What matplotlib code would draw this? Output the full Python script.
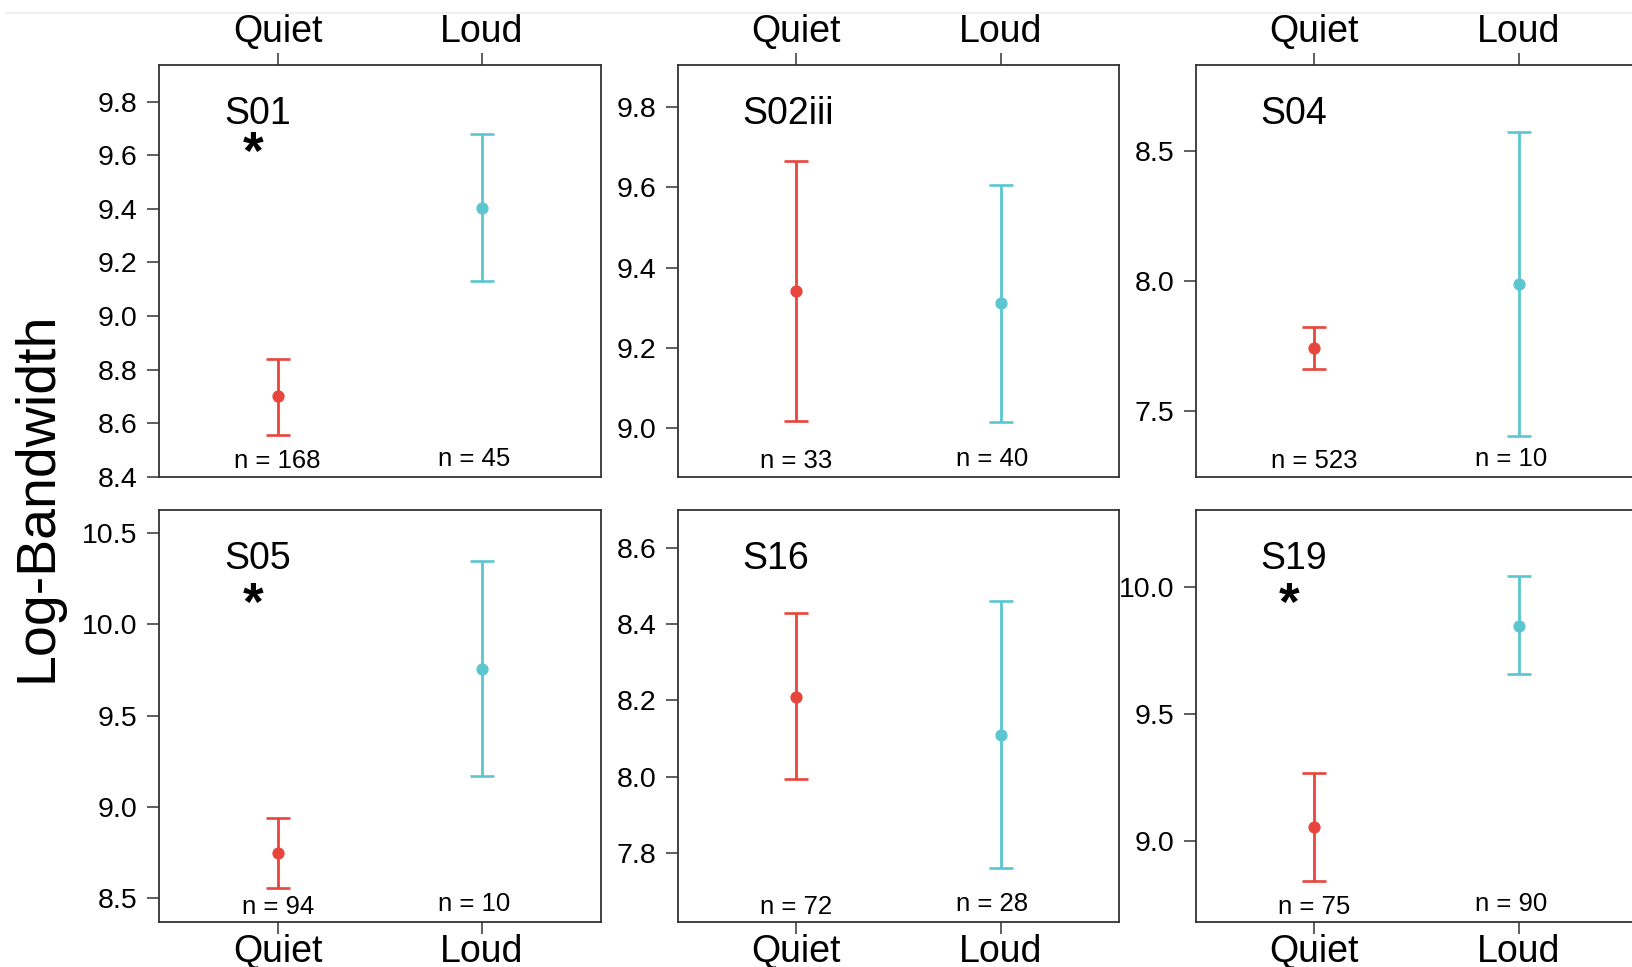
import numpy as np
import matplotlib
matplotlib.use("Agg")
import matplotlib.pyplot as plt
from matplotlib.lines import Line2D

plt.rcParams['font.family'] = ['Liberation Sans', 'DejaVu Sans']

# data
groups = ["S01", "S02iii", "S04", "S05", "S16", "S19"]
conditions = ["Quiet", "Loud"]
quiet_mean = [8.70, 9.343, 7.742, 8.747, 8.210, 9.056]
quiet_lo = [8.555, 9.019, 7.662, 8.555, 7.994, 8.843]
quiet_hi = [8.841, 9.666, 7.823, 8.938, 8.429, 9.269]
loud_mean = [9.403, 9.311, 7.987, 9.752, 8.109, 9.849]
loud_lo = [9.129, 9.016, 7.404, 9.172, 7.761, 9.658]
loud_hi = [9.679, 9.605, 8.572, 10.343, 8.459, 10.045]
n_quiet = [168, 33, 523, 94, 72, 75]
n_loud = [45, 40, 10, 10, 28, 90]
significant = [True, False, False, True, False, True]

ylims = [(8.4, 9.937), (8.88, 9.904), (7.246, 8.83),
         (8.372, 10.624), (7.621, 8.698), (8.682, 10.305)]
yticks = [[8.4, 8.6, 8.8, 9.0, 9.2, 9.4, 9.6, 9.8],
          [9.0, 9.2, 9.4, 9.6, 9.8],
          [7.5, 8.0, 8.5],
          [8.5, 9.0, 9.5, 10.0, 10.5],
          [7.8, 8.0, 8.2, 8.4, 8.6],
          [9.0, 9.5, 10.0]]
star_y = [0.782, None, None, 0.768, None, 0.768]

red = '#E8453C'
cyan = '#5BC6CF'
frame = '#333333'

fig = plt.figure(figsize=(16.32, 9.67), dpi=100)

# faint line along the top of the screenshot
fig.add_artist(Line2D([0.0045, 1.0], [0.987, 0.987], color='#f0f0f0', lw=1.6))

lefts = [0.0975, 0.4152, 0.7328]
bottoms = [0.5070, 0.0468]
w, h = 0.2705, 0.4257

for i, g in enumerate(groups):
    row, col = divmod(i, 3)
    ax = fig.add_axes([lefts[col], bottoms[row], w, h])
    xs = [1, 2]
    means = [quiet_mean[i], loud_mean[i]]
    los = [quiet_lo[i], loud_lo[i]]
    his = [quiet_hi[i], loud_hi[i]]
    for x, m, lo, hi, c in zip(xs, means, los, his, [red, cyan]):
        ax.errorbar([x], [m], yerr=[[m - lo], [hi - m]], fmt='o', color=c,
                    ms=7.8, elinewidth=2.0, capsize=8.3, capthick=1.9)

    ax.set_xlim(0.42, 2.58)
    ax.set_ylim(*ylims[i])
    ax.set_yticks(yticks[i])
    ax.set_yticklabels([f"{v:.1f}" for v in yticks[i]])
    ax.set_xticks(xs)
    ax.set_xticklabels(conditions)

    for s in ax.spines.values():
        s.set_color(frame)
        s.set_linewidth(1.3)

    ax.tick_params(axis='y', direction='out', length=8.5, width=1.1,
                   color=frame, labelsize=20.5, pad=7)
    if row == 0:
        ax.tick_params(axis='x', top=True, bottom=False, labeltop=True,
                       labelbottom=False, direction='out', length=8.5,
                       width=1.1, color=frame, labelsize=27, pad=2.5)
    else:
        ax.tick_params(axis='x', direction='out', length=8.5, width=1.1,
                       color=frame, labelsize=27, pad=0)

    ax.text(0.147, 0.858, g, transform=ax.transAxes, fontsize=27,
            ha='left', va='baseline')
    if significant[i]:
        ax.text(0.212, star_y[i], '*', transform=ax.transAxes, fontsize=38,
                fontweight='bold', ha='center', va='center')

    ax.text(1, 0.02, f"n = {n_quiet[i]}", transform=ax.get_xaxis_transform(),
            fontsize=18.5, ha='center', va='baseline')
    ax.text(1.96, 0.026, f"n = {n_loud[i]}", transform=ax.get_xaxis_transform(),
            fontsize=18.5, ha='center', va='baseline')

fig.text(0.0227, 0.486, 'Log-Bandwidth', rotation=90, fontsize=40,
         ha='center', va='center')

fig.savefig('out.png', dpi=100)
